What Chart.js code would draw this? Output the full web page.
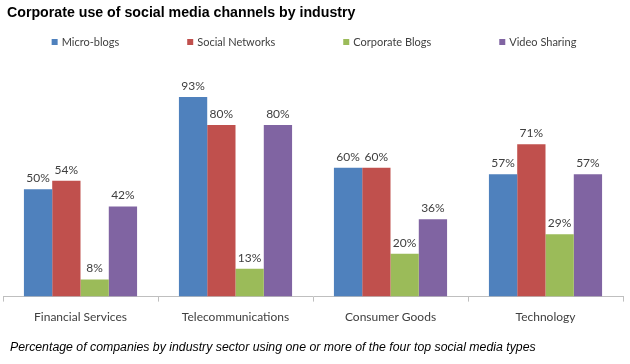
<!DOCTYPE html>
<html>
<head>
<meta charset="utf-8">
<script src="https://cdn.jsdelivr.net/npm/chart.js@4"></script>
<style>
  body { margin: 0; background: #fff; }
</style>
</head>
<body>
<canvas id="barChart" width="630" height="364"></canvas>
<script>
const categories = ['Financial Services', 'Telecommunications', 'Consumer Goods', 'Technology'];
const seriesNames = ['Micro-blogs', 'Social Networks', 'Corporate Blogs', 'Video Sharing'];
const microBlogs = [50, 93, 60, 57];
const socialNetworks = [54, 80, 60, 71];
const corporateBlogs = [8, 13, 20, 29];
const videoSharing = [42, 80, 36, 57];
const seriesColors = ['#4F81BD', '#C0504D', '#9BBB59', '#8064A2'];

const titleText = 'Corporate use of social media channels by industry';
const noteText = 'Percentage of companies by industry sector using one or more of the four top social media types';

let seriesValues = [microBlogs, socialNetworks, corporateBlogs, videoSharing];

// value labels above each bar
const valueLabels = {
    id: 'valueLabels',
    afterDatasetsDraw(chart) {
        let ctx = chart.ctx;
        ctx.save();
        ctx.font = '12px Lato';
        ctx.fillStyle = '#404040';
        ctx.textAlign = 'center';
        ctx.textBaseline = 'middle';
        chart.data.datasets.forEach((ds, i) => {
            chart.getDatasetMeta(i).data.forEach((bar, j) => {
                ctx.fillText(ds.data[j] + '%', bar.x, bar.y - 11);
            });
        });
        ctx.restore();
    }
};

// title, legend row and footnote
const textParts = {
    id: 'textParts',
    afterDraw(chart) {
        let ctx = chart.ctx;
        ctx.save();
        ctx.fillStyle = '#000';
        ctx.textBaseline = 'middle';
        ctx.textAlign = 'left';
        ctx.font = 'bold 14.2px "Liberation Sans"';
        ctx.fillText(titleText, 7, 13);

        ctx.font = 'italic 12.3px "Liberation Sans"';
        ctx.fillText(noteText, 10, 348);

        // legend
        ctx.font = '11px Lato';
        let gap = 68;
        let widths = chart.data.datasets.map(ds => 10 + ctx.measureText(ds.label).width);
        let total = widths.reduce((a, w) => a + w, 0) + gap * (widths.length - 1);
        let x = 314 - total / 2;
        chart.data.datasets.forEach((ds, i) => {
            ctx.fillStyle = ds.backgroundColor;
            ctx.fillRect(x, 39, 6, 6);
            ctx.fillStyle = '#404040';
            ctx.fillText(ds.label, x + 10, 42);
            x += widths[i] + gap;
        });
        ctx.restore();
    }
};

let ctx = document.getElementById('barChart').getContext('2d');

let chart = new Chart(ctx, {
    type: 'bar',
    data: {
        labels: categories,
        datasets: seriesNames.map((name, i) => ({
            label: name,
            data: seriesValues[i],
            backgroundColor: seriesColors[i],
            categoryPercentage: 0.73,
            barPercentage: 1
        }))
    },
    options: {
        responsive: false,
        animation: false,
        layout: {
            padding: { top: 82, left: 3, right: 7, bottom: 32 }
        },
        plugins: {
            legend: { display: false },
            title: { display: false },
            tooltip: { enabled: false }
        },
        scales: {
            y: {
                display: false,
                min: 0,
                max: 100
            },
            x: {
                border: { color: '#bfbfbf' },
                grid: {
                    display: true,
                    drawOnChartArea: false,
                    tickLength: 5,
                    color: '#bfbfbf',
                    offset: true
                },
                ticks: {
                    padding: 8,
                    color: '#404040',
                    font: { family: 'Lato', size: 12 }
                }
            }
        }
    },
    plugins: [valueLabels, textParts]
});
</script>
</body>
</html>
